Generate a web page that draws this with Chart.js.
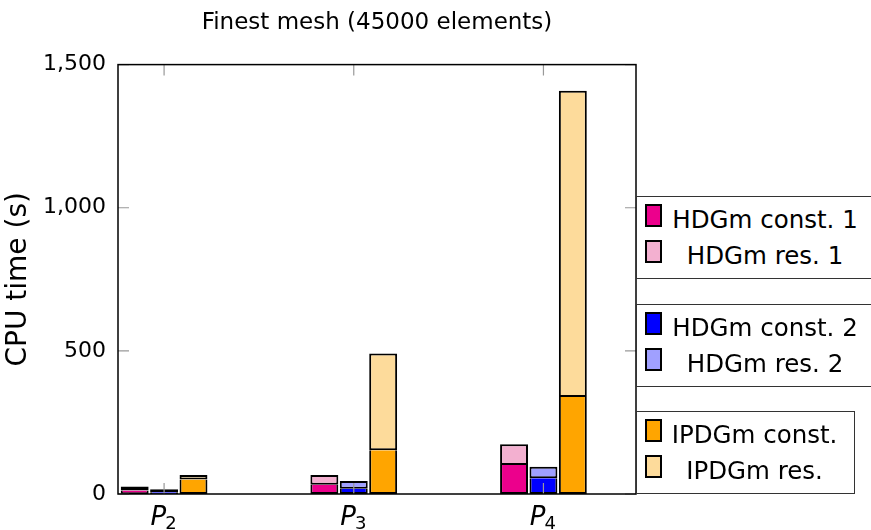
<!DOCTYPE html>
<html>
<head>
<meta charset="utf-8">
<script src="https://cdn.jsdelivr.net/npm/chart.js@4.4.1/dist/chart.umd.min.js"></script>
<style>
  body { margin: 0; background: #fff; }
  #wrap { position: relative; width: 871px; height: 530px; overflow: hidden; font-family: "DejaVu Sans", sans-serif; }
  #chart { position: absolute; left: 0; top: 0; }
  .lgBox { position: absolute; left: 636px; height: 83px; box-sizing: border-box; border: 1px solid #333; background: #fff; padding-top: 1px; }
  .lgRow { position: relative; height: 35.5px; }
  .lgSw { position: absolute; left: 8px; top: 6px; width: 17px; height: 23px; box-sizing: border-box; border: 2px solid #000; }
  .lgTx { position: absolute; left: 30px; right: 12px; top: 4px; line-height: 35.5px; text-align: center; font-size: 24.5px; color: #000; white-space: nowrap; }
</style>
</head>
<body>
<div id="wrap">
  <canvas id="chart" width="871" height="530"></canvas>
</div>
<script>
// 데이터
const categories = ['P2', 'P3', 'P4'];
const xPositions = [0, 1, 2];
const hdg1Const = [12, 32, 101];
const hdg1Res = [14, 34, 73];
const hdg2Const = [6, 18, 55];
const hdg2Res = [11, 27, 40];
const ipdgConst = [51, 153, 339];
const ipdgRes = [15, 338, 1070];
const yTicks = [0, 500, 1000, 1500];

const FONT = '"DejaVu Sans", sans-serif';

// part: 'const' 는 아래쪽, 'res' 는 위에 쌓임
const series = [
  { label: 'HDGm const. 1', data: hdg1Const, color: '#ec008c', stack: 'hdg1', part: 'const' },
  { label: 'HDGm res. 1', data: hdg1Res, color: '#f3b0d0', stack: 'hdg1', part: 'res' },
  { label: 'HDGm const. 2', data: hdg2Const, color: '#0000ff', stack: 'hdg2', part: 'const' },
  { label: 'HDGm res. 2', data: hdg2Res, color: '#a0a0ff', stack: 'hdg2', part: 'res' },
  { label: 'IPDGm const.', data: ipdgConst, color: '#ffa500', stack: 'ipdg', part: 'const' },
  { label: 'IPDGm res.', data: ipdgRes, color: '#fddb9b', stack: 'ipdg', part: 'res' }
];

// 범례 상자 위치
const legendBoxes = [
  { stack: 'hdg1', top: 196, width: 240 },
  { stack: 'hdg2', top: 304, width: 240 },
  { stack: 'ipdg', top: 411, width: 219 }
];

// 축 테두리 + 안쪽 눈금 + P_k 라벨(아래첨자)
const frame = {
  id: 'frame',
  afterDatasetsDraw(chart) {
    const { ctx, chartArea: a, scales: { x, y } } = chart;
    ctx.save();
    ctx.strokeStyle = '#999';
    ctx.lineWidth = 1.2;
    ctx.beginPath();
    yTicks.forEach(v => {
      const py = y.getPixelForValue(v);
      ctx.moveTo(a.left, py); ctx.lineTo(a.left + 11, py);
      ctx.moveTo(a.right, py); ctx.lineTo(a.right - 11, py);
    });
    xPositions.forEach(v => {
      const px = x.getPixelForValue(v);
      ctx.moveTo(px, a.bottom); ctx.lineTo(px, a.bottom - 11);
      ctx.moveTo(px, a.top); ctx.lineTo(px, a.top + 11);
    });
    ctx.stroke();
    ctx.strokeStyle = '#000';
    ctx.lineWidth = 1.5;
    ctx.strokeRect(a.left, a.top, a.right - a.left, a.bottom - a.top);

    // x 라벨: 이탤릭 P + 아래첨자 숫자
    ctx.fillStyle = '#000';
    ctx.textBaseline = 'alphabetic';
    ctx.textAlign = 'left';
    xPositions.forEach((v, i) => {
      const px = x.getPixelForValue(v);
      const base = categories[i].charAt(0);
      const sub = categories[i].slice(1);
      ctx.font = 'italic 26px ' + FONT;
      const wb = ctx.measureText(base).width;
      ctx.font = '18px ' + FONT;
      const ws = ctx.measureText(sub).width;
      const x0 = px - (wb + ws) / 2;
      ctx.font = 'italic 26px ' + FONT;
      ctx.fillText(base, x0, a.bottom + 31);
      ctx.font = '18px ' + FONT;
      ctx.fillText(sub, x0 + wb - 1, a.bottom + 35);
    });
    ctx.restore();
  }
};

const ctx = document.getElementById('chart').getContext('2d');
const chart = new Chart(ctx, {
  type: 'bar',
  data: {
    datasets: series.map(s => ({
      label: s.label,
      stack: s.stack,
      data: s.data.map((v, i) => ({ x: xPositions[i], y: v })),
      backgroundColor: s.color,
      borderColor: '#000',
      borderWidth: 2,
      // 경계선이 두 겹이 되지 않도록 아래 막대의 윗변은 생략
      borderSkipped: s.part === 'const' ? 'end' : false,
      categoryPercentage: 0.465,
      barPercentage: 0.95
    }))
  },
  options: {
    responsive: false,
    animation: false,
    layout: { padding: { left: 0, right: 235, top: 0, bottom: 0 } },
    plugins: {
      legend: { display: false },
      tooltip: { enabled: false },
      title: {
        display: true,
        fullSize: false,
        text: 'Finest mesh (45000 elements)',
        color: '#000',
        font: { family: FONT, size: 23, weight: 'normal' },
        padding: { top: 9, bottom: 28 }
      }
    },
    scales: {
      x: {
        type: 'linear',
        min: -0.243,
        max: 2.488,
        offset: false,
        stacked: true,
        grid: { display: false, drawTicks: false, offset: false },
        border: { display: false },
        afterBuildTicks: s => { s.ticks = xPositions.map(v => ({ value: v })); },
        afterFit: s => { s.height = 36; },
        ticks: { display: false }
      },
      y: {
        min: 0,
        max: 1500,
        stacked: true,
        grid: { display: false, drawTicks: false },
        border: { display: false },
        afterBuildTicks: s => { s.ticks = yTicks.map(v => ({ value: v })); },
        afterFit: s => { s.width = 118; },
        ticks: {
          callback: v => v.toLocaleString('en-US'),
          font: { family: FONT, size: 22 },
          color: '#000',
          padding: 12
        },
        title: {
          display: true,
          text: 'CPU time (s)',
          color: '#000',
          font: { family: FONT, size: 28 },
          padding: { top: 2, bottom: 0 }
        }
      }
    }
  },
  plugins: [frame]
});

// 범례 (스택별 상자)
const wrap = document.getElementById('wrap');
legendBoxes.forEach(b => {
  const box = document.createElement('div');
  box.className = 'lgBox';
  box.style.top = b.top + 'px';
  box.style.width = b.width + 'px';
  series.filter(s => s.stack === b.stack).forEach(s => {
    const row = document.createElement('div');
    row.className = 'lgRow';
    const sw = document.createElement('span');
    sw.className = 'lgSw';
    sw.style.background = s.color;
    const tx = document.createElement('span');
    tx.className = 'lgTx';
    tx.textContent = s.label;
    row.appendChild(sw);
    row.appendChild(tx);
    box.appendChild(row);
  });
  wrap.appendChild(box);
});
</script>
</body>
</html>
